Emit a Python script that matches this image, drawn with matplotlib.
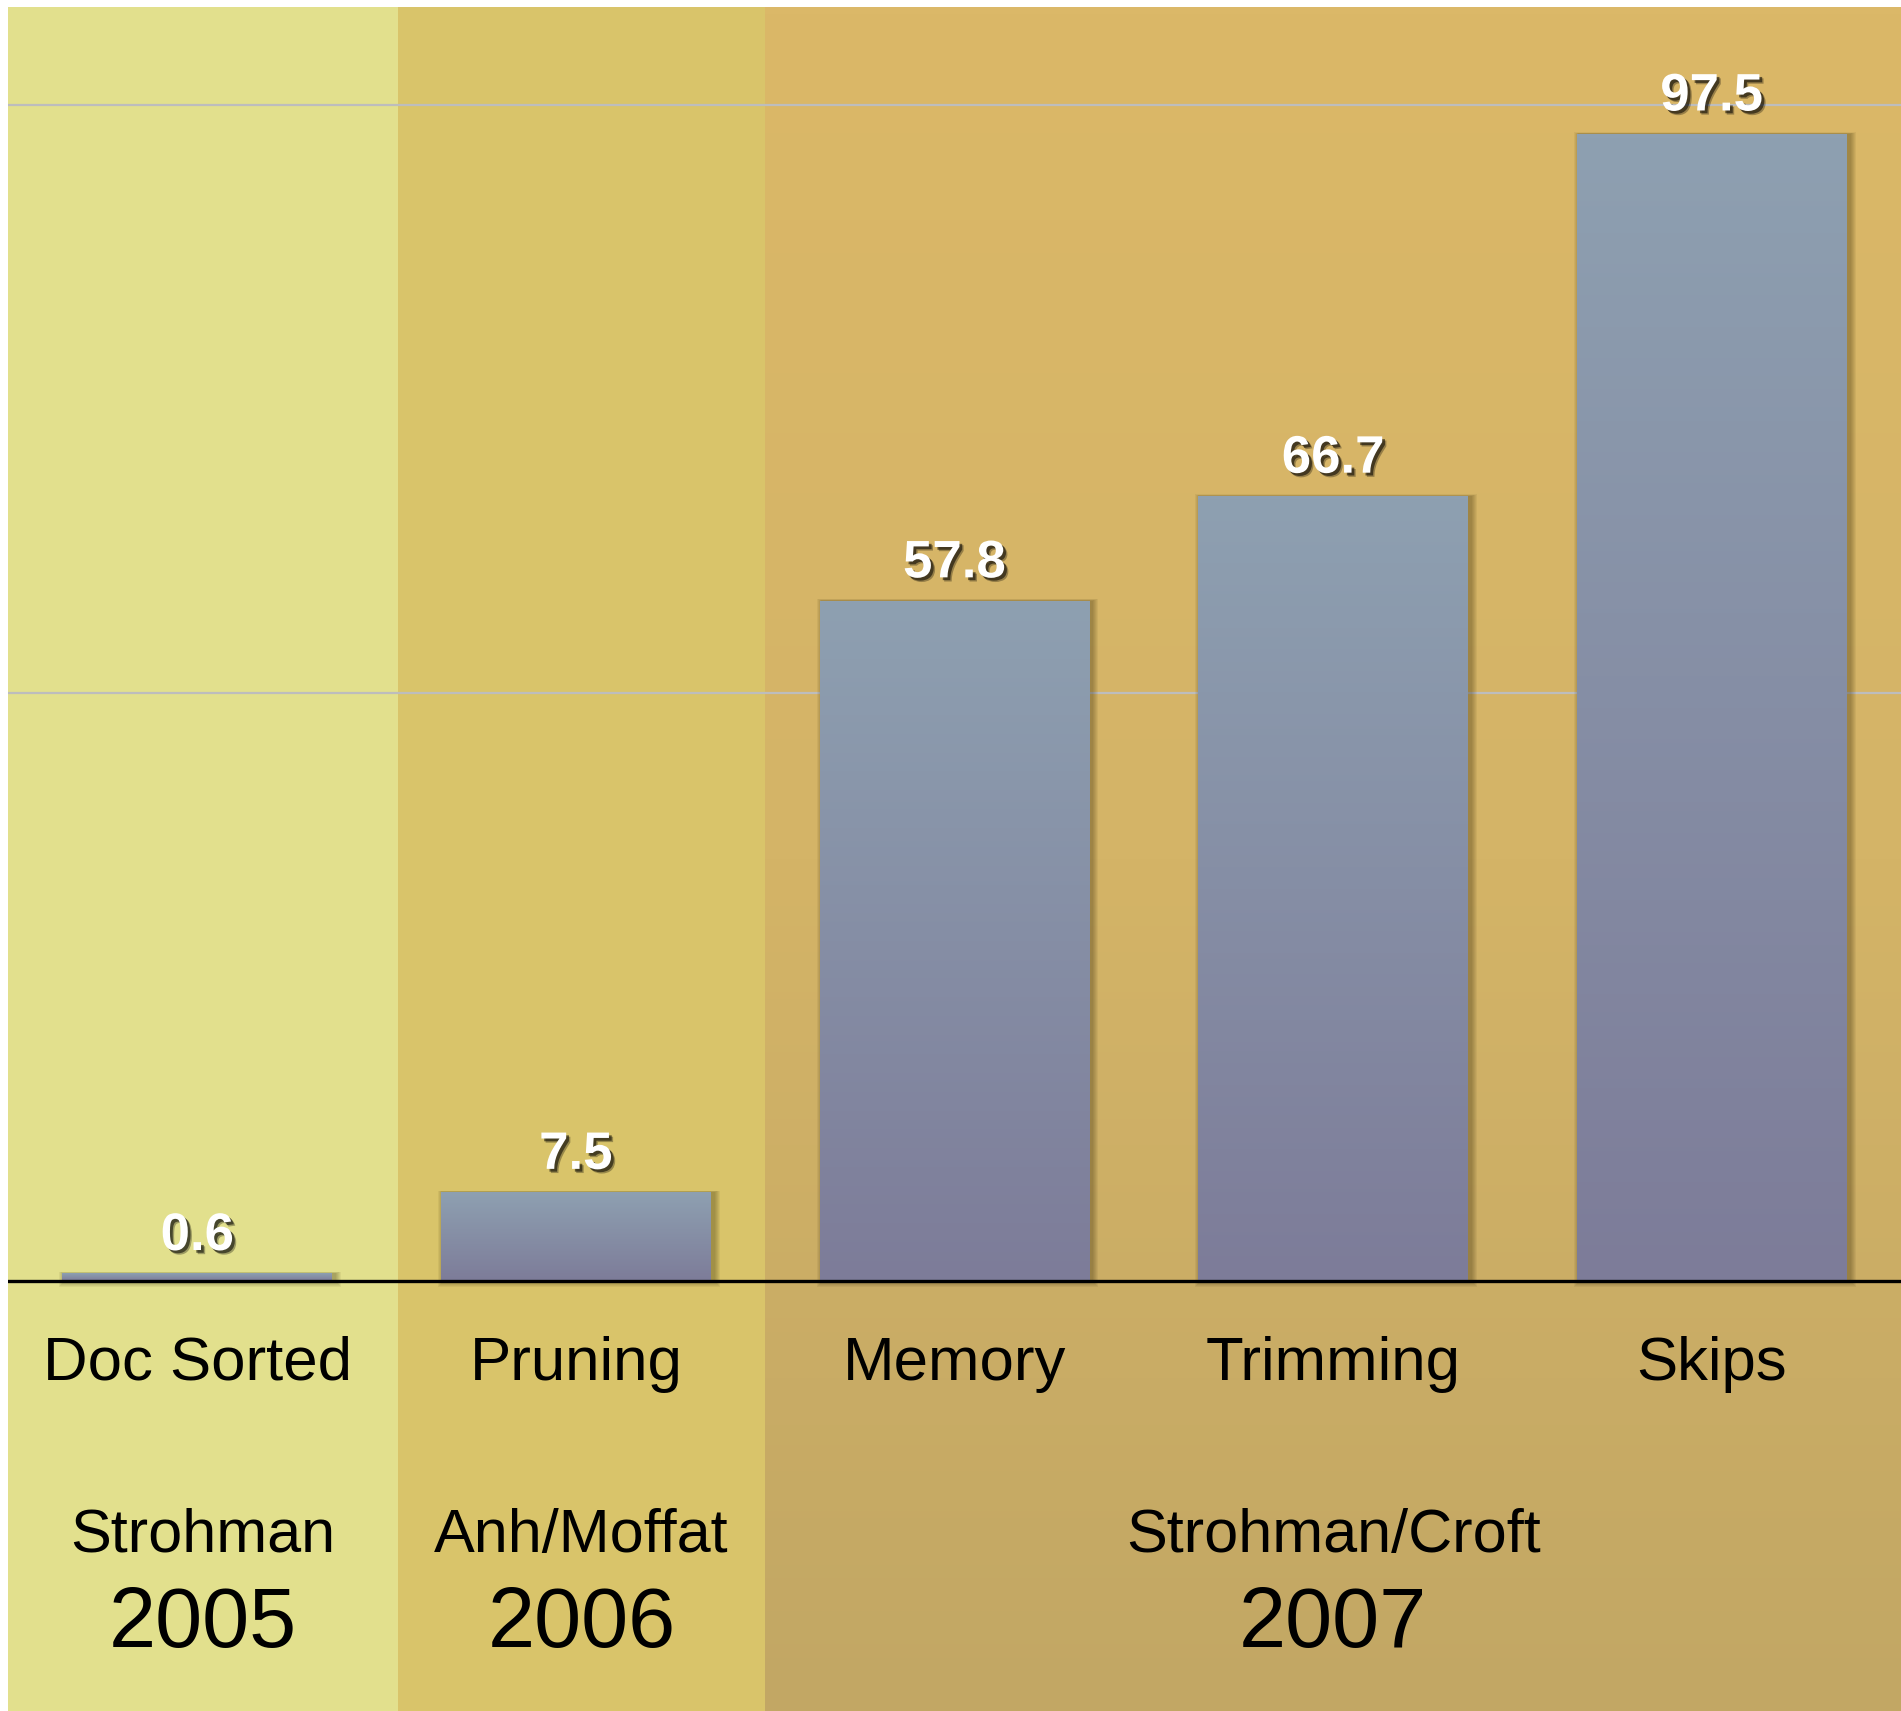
import matplotlib.pyplot as plt
import matplotlib.patheffects as pe
from matplotlib.colors import LinearSegmentedColormap
from matplotlib.patches import Rectangle
import numpy as np

methods = ['Doc Sorted', 'Pruning', 'Memory', 'Trimming', 'Skips']
values = [0.6, 7.5, 57.8, 66.7, 97.5]
authors = ['Strohman', 'Anh/Moffat', 'Strohman/Croft']
years = ['2005', '2006', '2007']

plt.rcParams['font.family'] = ['Liberation Sans', 'DejaVu Sans']

fig = plt.figure(figsize=(19.01, 17.11), dpi=100, facecolor='white')
ax = fig.add_axes([8 / 1901, 0, 1893 / 1901, 1704 / 1711])
ymin, ymax = -36.6, 108.3
ax.set_xlim(-0.5, 4.5)
ax.set_ylim(ymin, ymax)
ax.axis('off')

# era backgrounds
edges = [-0.5, 0.53, 1.5, 4.5]
ax.axvspan(edges[0], edges[1], color='#E2E08D', zorder=0, lw=0)
ax.axvspan(edges[1], edges[2], color='#D9C46A', zorder=0, lw=0)
band3 = LinearSegmentedColormap.from_list('b3', ['#C2A764', '#D4B467', '#DBB868'])
grad = np.linspace(0, 1, 256).reshape(-1, 1)
ax.imshow(grad, cmap=band3, origin='lower', aspect='auto',
          extent=(edges[2], edges[3], ymin, ymax), zorder=0)

# grid lines
for g in [50, 100]:
    ax.axhline(g, color='#BDBDBD', lw=1.6, zorder=1)

# bars with gradient and soft shadow
barcm = LinearSegmentedColormap.from_list('bar', ['#7D7C99', '#8EA0B1'])
w = 0.713
px = 1 / 378.75
py = 1 / 11.76
for i, v in enumerate(values):
    for k in range(1, 7):
        ax.add_patch(Rectangle((i - w / 2 + 3 * px - k * px, -k * py),
                               w + 2 * k * px, v + k * py * 1.3,
                               color='#2a2000', alpha=0.06, lw=0, zorder=2))
    ax.imshow(grad, cmap=barcm, origin='lower', aspect='auto',
              extent=(i - w / 2, i + w / 2, 0, v), zorder=3)
    ax.text(i, v + 2.0, f'{v}', ha='center', va='baseline', fontsize=38,
            fontweight='bold', color='white', zorder=6,
            path_effects=[pe.SimplePatchShadow(offset=(3, -3), shadow_rgbFace='black', alpha=0.3),
                          pe.SimplePatchShadow(offset=(2, -2), shadow_rgbFace='black', alpha=0.55),
                          pe.Normal()])
    ax.text(i, -8.42, methods[i], ha='center', va='baseline', fontsize=44.5,
            color='black', zorder=6)

ax.axhline(0, color='black', lw=2.4, zorder=5)

# authors and years per era
for j in range(3):
    xc = (edges[j] + edges[j + 1]) / 2
    ax.text(xc, -23.04, authors[j], ha='center', va='baseline', fontsize=44, color='black')
    ax.text(xc, -31.2, years[j], ha='center', va='baseline', fontsize=61, color='black')

ax.set_xlim(-0.5, 4.5)
ax.set_ylim(ymin, ymax)
plt.savefig('out.png', dpi=100, facecolor='white')
